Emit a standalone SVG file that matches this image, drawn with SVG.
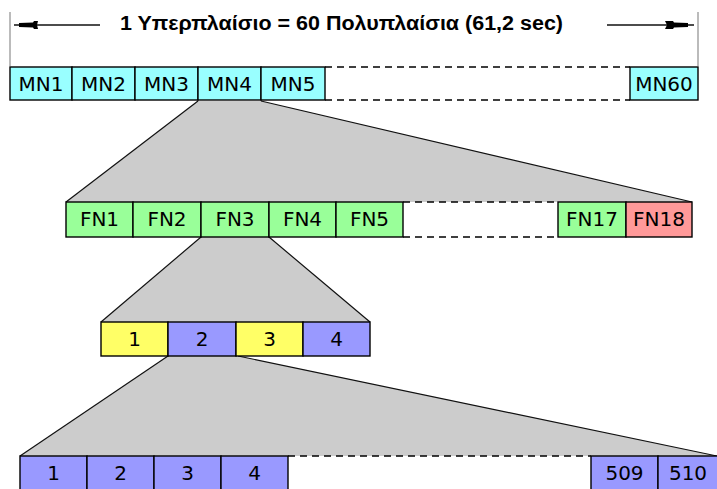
<svg xmlns="http://www.w3.org/2000/svg" width="717" height="489" viewBox="0 0 717 489">
  <style>
    .cell { stroke: #000; stroke-width: 1.4; }
    .mn { fill: #99ffff; }
    .fn { fill: #99ff99; }
    .fn-last { fill: #ff9999; }
    .ts-y { fill: #ffff66; }
    .ts-b { fill: #9999ff; }
    .lbl { font-family: "DejaVu Sans", "Liberation Sans", sans-serif; font-size: 20px; fill: #000; text-anchor: middle; }
    .gap { stroke: #000; stroke-width: 1.5; stroke-dasharray: 7 5; fill: none; }
    .fan { fill: #cccccc; stroke: none; }
    .fan-edge { stroke: #111; stroke-width: 1.2; fill: none; }
    .span { stroke: #bbbbbb; stroke-width: 2; }
    .title { font-family: "Liberation Sans", Arial, sans-serif; font-size: 20px; font-weight: bold; fill: #000; text-anchor: middle; }
  </style>

  <!-- expansion fans (drawn behind the rows) -->
  <g id="fans">
    <polygon class="fan" points="198,101 261,101 692,202 66,202"/>
    <polygon class="fan" points="201,237 269,237 370,322 101,322"/>
    <polygon class="fan" points="168,356 238,356 717,456 20,456"/>
  </g>

  <!-- span marker and title -->
  <g id="span">
    <line class="span" x1="10" y1="12" x2="10" y2="66"/>
    <line class="span" x1="698" y1="12" x2="698" y2="66"/>
    <text class="title" x="341.5" y="30" textLength="443" lengthAdjust="spacingAndGlyphs">1 Υπερπλαίσιο = 60 Πολυπλαίσια (61,2 sec)</text>
  </g>

  <!-- connectors -->
  <g id="connectors">
    <line x1="14" y1="25" x2="100" y2="25" stroke="#111" stroke-width="1.3"/>
    <polygon points="19,23 33,22.5 34,21 38,21 37,25 38,29 34,29 33,27.5 19,27" fill="#000"/>
    <line x1="607" y1="25" x2="694" y2="25" stroke="#111" stroke-width="1.3"/>
    <polygon points="688,23 674,22.5 673,21 665,21 667,25 665,29 673,29 674,27.5 688,27" fill="#000"/>
    <line class="fan-edge" x1="198" y1="101" x2="66" y2="202"/>
    <line class="fan-edge" x1="261" y1="101" x2="692" y2="202"/>
    <line class="fan-edge" x1="201" y1="237" x2="101" y2="322"/>
    <line class="fan-edge" x1="269" y1="237" x2="370" y2="322"/>
    <line class="fan-edge" x1="168" y1="356" x2="20" y2="456"/>
    <line class="fan-edge" x1="238" y1="356" x2="717" y2="456"/>
  </g>

  <!-- row 1: multiframes -->
  <g id="mn-gap"><line class="gap" x1="325" y1="67" x2="630" y2="67"/><line class="gap" x1="325" y1="100" x2="630" y2="100"/></g>
  <g id="mn1"><rect class="cell mn" x="10" y="67" width="62" height="33"/><text class="lbl" x="41" y="91">MN1</text></g>
  <g id="mn2"><rect class="cell mn" x="72" y="67" width="63" height="33"/><text class="lbl" x="103.5" y="91">MN2</text></g>
  <g id="mn3"><rect class="cell mn" x="135" y="67" width="63" height="33"/><text class="lbl" x="166.5" y="91">MN3</text></g>
  <g id="mn4"><rect class="cell mn" x="198" y="67" width="63" height="33"/><text class="lbl" x="229.5" y="91">MN4</text></g>
  <g id="mn5"><rect class="cell mn" x="261" y="67" width="64" height="33"/><text class="lbl" x="293" y="91">MN5</text></g>
  <g id="mn60"><rect class="cell mn" x="630" y="67" width="68" height="33"/><text class="lbl" x="664" y="91">MN60</text></g>

  <!-- row 2: frames -->
  <g id="fn-gap"><line class="gap" x1="403" y1="202" x2="558" y2="202"/><line class="gap" x1="403" y1="237" x2="558" y2="237"/></g>
  <g id="fn1"><rect class="cell fn" x="66" y="202" width="67" height="35"/><text class="lbl" x="99.5" y="226">FN1</text></g>
  <g id="fn2"><rect class="cell fn" x="133" y="202" width="68" height="35"/><text class="lbl" x="167" y="226">FN2</text></g>
  <g id="fn3"><rect class="cell fn" x="201" y="202" width="68" height="35"/><text class="lbl" x="235" y="226">FN3</text></g>
  <g id="fn4"><rect class="cell fn" x="269" y="202" width="67" height="35"/><text class="lbl" x="302.5" y="226">FN4</text></g>
  <g id="fn5"><rect class="cell fn" x="336" y="202" width="67" height="35"/><text class="lbl" x="369.5" y="226">FN5</text></g>
  <g id="fn17"><rect class="cell fn" x="558" y="202" width="68" height="35"/><text class="lbl" x="592" y="226">FN17</text></g>
  <g id="fn18"><rect class="cell fn-last" x="626" y="202" width="66" height="35"/><text class="lbl" x="659" y="226">FN18</text></g>

  <!-- row 3: timeslots -->
  <g id="ts1"><rect class="cell ts-y" x="101" y="322" width="67" height="34"/><text class="lbl" x="134.5" y="346">1</text></g>
  <g id="ts2"><rect class="cell ts-b" x="168" y="322" width="68" height="34"/><text class="lbl" x="202" y="346">2</text></g>
  <g id="ts3"><rect class="cell ts-y" x="236" y="322" width="67" height="34"/><text class="lbl" x="269.5" y="346">3</text></g>
  <g id="ts4"><rect class="cell ts-b" x="303" y="322" width="67" height="34"/><text class="lbl" x="336.5" y="346">4</text></g>

  <!-- row 4: bits -->
  <g id="bit-gap"><line class="gap" x1="288" y1="456" x2="591" y2="456"/></g>
  <g id="b1"><rect class="cell ts-b" x="20" y="456" width="67" height="36"/><text class="lbl" x="53.5" y="480">1</text></g>
  <g id="b2"><rect class="cell ts-b" x="87" y="456" width="67" height="36"/><text class="lbl" x="120.5" y="480">2</text></g>
  <g id="b3"><rect class="cell ts-b" x="154" y="456" width="67" height="36"/><text class="lbl" x="187.5" y="480">3</text></g>
  <g id="b4"><rect class="cell ts-b" x="221" y="456" width="67" height="36"/><text class="lbl" x="254.5" y="480">4</text></g>
  <g id="b509"><rect class="cell ts-b" x="591" y="456" width="67" height="36"/><text class="lbl" x="624.5" y="480">509</text></g>
  <g id="b510"><rect class="cell ts-b" x="658" y="456" width="67" height="36"/><text class="lbl" x="688" y="480">510</text></g>
</svg>
